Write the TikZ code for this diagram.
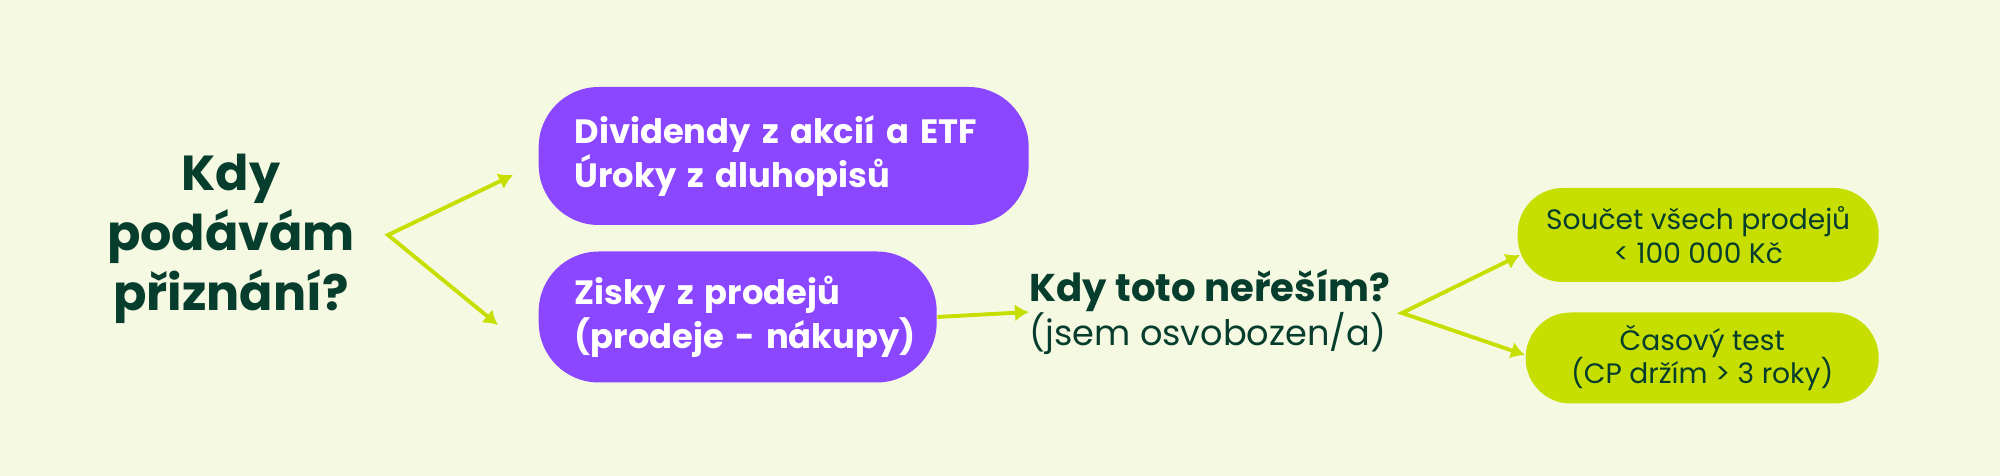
\documentclass[tikz,border=0pt]{standalone}
\usepackage{fontspec}
\setmainfont{Poppins}
\usetikzlibrary{arrows.meta}
\definecolor{bgcream}{HTML}{F5F9E2}
\definecolor{boxpurple}{HTML}{8B46FF}
\definecolor{boxlime}{HTML}{C6DF00}
\definecolor{darkgreen}{HTML}{073D2D}
\tikzset{
    pbox/.style={
        fill=boxpurple, text=white, anchor=west, align=left,
        rounded corners=6mm, inner xsep=3.6mm, inner ysep=0pt,
        font=\bfseries\fontsize{9.6}{12.4}\selectfont
    },
    lbox/.style={
        fill=boxlime, text=darkgreen, anchor=west, align=center,
        rounded corners=4.5mm, inner sep=0pt,
        font=\fontsize{8}{9.6}\selectfont
    },
    arr/.style={
        draw=boxlime, line width=1.1pt,
        {Latex[length=1.4mm,width=1.7mm]}-{Latex[length=1.4mm,width=1.7mm]}
    }
}

\begin{document}
\begin{tikzpicture}[x=0.1mm,y=-0.1mm]

		% Background
		\fill [bgcream] (0,0) rectangle (2000,476);

		% Question
		\node [align=center, inner sep=0pt, text=darkgreen,
		       font=\bfseries\fontsize{14}{17}\selectfont] (title) at (231,239)
		       {Kdy\\podávám\\přiznání?};

		% Dividends and interest
		\node [pbox, minimum height=13.8mm, text width=41.8mm] (div) at (538,156)
		      {Dividendy z akcií a ETF\\Úroky z dluhopisů};

		% Capital gains
		\node [pbox, minimum height=13.1mm, text width=32.6mm] (gain) at (538,317)
		      {Zisky z prodejů\\\mbox{(prodeje - nákupy)}};

		% Fork from the question
		\coordinate (fork1) at (388,235);
		\coordinate (tipdiv) at (513,175);
		\coordinate (tipgain) at (498,325);
		\draw [arr] (tipdiv) -- (fork1) -- (tipgain);

		% Exemption question
		\node [anchor=west, align=left, inner sep=0pt, text=darkgreen,
		       font=\fontsize{10}{12.5}\selectfont] (exempt) at (1029,312)
		      {{\bfseries\fontsize{11}{12.5}\selectfont Kdy toto neřeším?}\\(jsem osvobozen/a)};
		\draw [arr, -{Latex[length=1.4mm,width=1.7mm]}] (gain.east) -- (exempt.west);

		% Sum of sales
		\node [lbox, minimum width=36.1mm, minimum height=9.4mm] (sum) at (1517,235)
		      {Součet všech prodejů\\< 100 000 Kč};

		% Time test
		\node [lbox, minimum width=35.3mm, minimum height=9.1mm] (time) at (1525,358)
		      {Časový test\\(CP držím > 3 roky)};

		% Fork from the exemption
		\coordinate (fork2) at (1402,313);
		\coordinate (tipsum) at (1520,255);
		\coordinate (tiptime) at (1525,355);
		\draw [arr] (tipsum) -- (fork2) -- (tiptime);

	\end{tikzpicture}
\end{document}
